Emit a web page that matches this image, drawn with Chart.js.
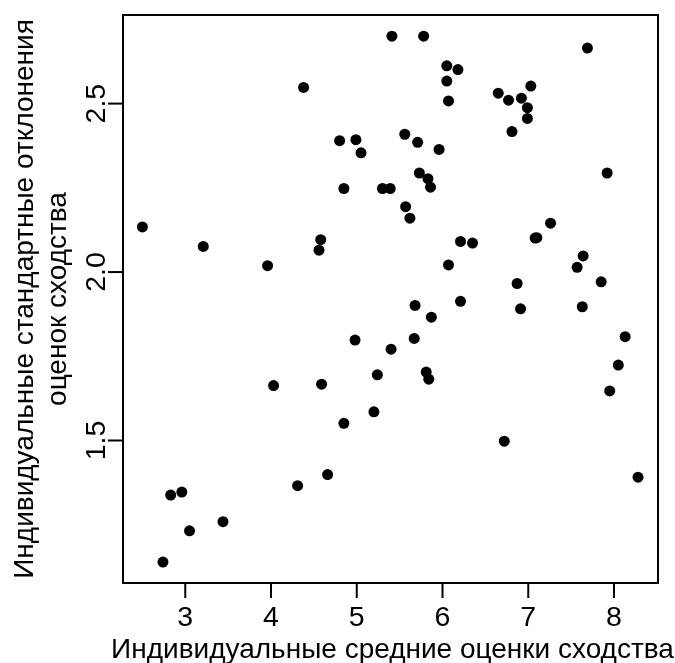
<!DOCTYPE html>
<html>
<head>
<meta charset="utf-8">
<script src="https://cdn.jsdelivr.net/npm/chart.js@4/dist/chart.umd.min.js"></script>
<style>
html,body{margin:0;padding:0;background:#fff;}
canvas{display:block;}
</style>
</head>
<body>
<canvas id="c" width="675" height="663"></canvas>
<script>
const xValues = [5.41,4.38,4.80,4.99,5.05,4.85,5.30,5.39,2.50,3.21,4.58,4.56,3.96,5.78,7.69,6.05,6.18,6.05,6.07,6.65,6.77,6.92,7.03,6.99,6.99,6.81,5.56,5.71,5.96,7.92,5.73,5.83,5.86,5.57,5.62,7.26,7.08,7.10,6.21,6.35,6.07,7.64,7.57,6.87,7.85,5.68,6.21,6.91,7.63,5.87,5.67,5.40,8.13,8.05,7.95,5.81,5.84,6.72,8.28,4.98,5.24,4.03,4.59,5.20,4.85,4.66,4.31,2.96,2.83,3.44,3.05,2.74];
const yValues = [2.700,2.548,2.390,2.393,2.354,2.248,2.248,2.248,2.134,2.076,2.096,2.065,2.019,2.700,2.665,2.612,2.601,2.567,2.508,2.531,2.510,2.516,2.552,2.488,2.456,2.417,2.409,2.385,2.364,2.294,2.294,2.277,2.252,2.194,2.160,2.145,2.101,2.102,2.091,2.086,2.021,2.048,2.014,1.966,1.971,1.901,1.913,1.891,1.897,1.866,1.803,1.771,1.808,1.724,1.647,1.703,1.682,1.498,1.391,1.798,1.695,1.663,1.667,1.585,1.551,1.399,1.366,1.347,1.338,1.259,1.232,1.139];
const xTicks = [3,4,5,6,7,8];
const yTicks = [1.5,2.0,2.5];
const xTitle = "Индивидуальные средние оценки сходства";
const yTitle = ["Индивидуальные стандартные отклонения","оценок сходства"];

const TICK_FONT = '28.5px "Liberation Sans", Arial, sans-serif';
const TITLE_FONT = '28px "Liberation Sans", Arial, sans-serif';

const axesPlugin = {
  id: 'rAxes',
  afterDraw(chart) {
    const ctx = chart.ctx;
    const a = chart.chartArea;
    const xs = chart.scales.x, ys = chart.scales.y;
    ctx.save();
    ctx.strokeStyle = '#000';
    ctx.fillStyle = '#000';
    ctx.lineWidth = 2;
    ctx.strokeRect(a.left, a.top, a.right - a.left, a.bottom - a.top);
    ctx.font = TICK_FONT;
    ctx.textAlign = 'center';
    ctx.textBaseline = 'alphabetic';
    xTicks.forEach(v => {
      const px = xs.getPixelForValue(v);
      ctx.beginPath();
      ctx.moveTo(px, a.bottom);
      ctx.lineTo(px, a.bottom + 15);
      ctx.stroke();
      ctx.fillText(String(v), px, a.bottom + 43);
    });
    yTicks.forEach(v => {
      const py = ys.getPixelForValue(v);
      ctx.beginPath();
      ctx.moveTo(a.left, py);
      ctx.lineTo(a.left - 15, py);
      ctx.stroke();
      ctx.save();
      ctx.translate(a.left - 18, py);
      ctx.rotate(-Math.PI / 2);
      ctx.textAlign = 'center';
      ctx.fillText(v.toFixed(1), 0, 0);
      ctx.restore();
    });
    ctx.font = TITLE_FONT;
    const cx = (a.left + a.right) / 2;
    ctx.textAlign = 'center';
    ctx.fillText(xTitle, cx + 2, a.bottom + 75);
    const cy = (a.top + a.bottom) / 2;
    ctx.save();
    ctx.translate(33, cy);
    ctx.rotate(-Math.PI / 2);
    ctx.fillText(yTitle[0], 0, 0);
    ctx.restore();
    ctx.save();
    ctx.translate(66, cy);
    ctx.rotate(-Math.PI / 2);
    ctx.fillText(yTitle[1], 0, 0);
    ctx.restore();
    ctx.restore();
  }
};

new Chart(document.getElementById('c'), {
  type: 'scatter',
  data: {
    datasets: [{
      data: xValues.map((x, i) => ({x: x, y: yValues[i]})),
      backgroundColor: '#000',
      borderColor: '#000',
      borderWidth: 0,
      pointRadius: 5.5,
      pointHoverRadius: 5.5
    }]
  },
  options: {
    responsive: false,
    animation: false,
    events: [],
    layout: { padding: { left: 123, right: 17, top: 15, bottom: 80 } },
    plugins: { legend: { display: false }, tooltip: { enabled: false } },
    scales: {
      x: { type: 'linear', display: false, min: 2.274, max: 8.513 },
      y: { type: 'linear', display: false, min: 1.077, max: 2.763 }
    }
  },
  plugins: [axesPlugin]
});
</script>
</body>
</html>
